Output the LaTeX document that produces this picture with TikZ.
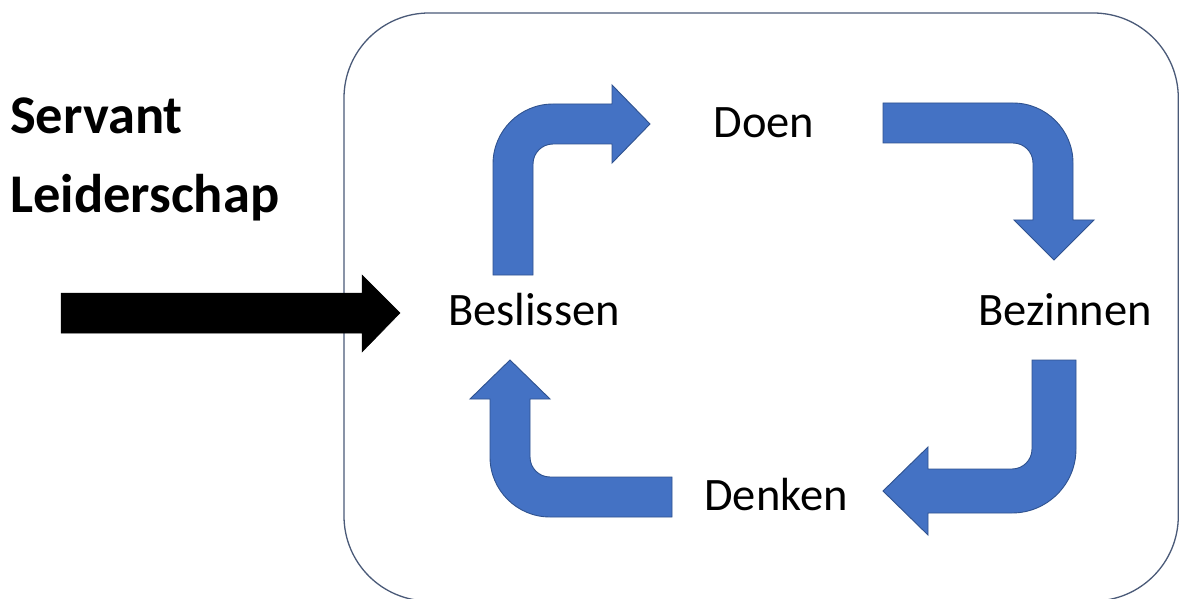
\documentclass[tikz,border=0pt]{standalone}
\usepackage{fontspec}
\setmainfont{Carlito}
\definecolor{officeblue}{HTML}{4472C4}
\definecolor{officeedge}{HTML}{2F528F}
\definecolor{frameedge}{HTML}{4A5A78}
\tikzset{
  bluearrow/.style={fill=officeblue, draw=officeedge, line width=0.9pt, line join=miter},
  blackarrow/.style={fill=black, draw=black, line width=0.5pt},
  frame/.style={draw=frameedge, line width=1.3pt, rounded corners=85pt},
  steplabel/.style={font=\fontsize{46.5}{56}\selectfont, anchor=base, inner sep=0pt},
  titlelabel/.style={font=\fontsize{54.5}{64}\selectfont\bfseries, anchor=base west, inner sep=0pt}
}
\begin{document}
\begin{tikzpicture}[x=1pt,y=-1pt]
\useasboundingbox (0,0) rectangle (1179,599);
\clip (0,0) rectangle (1179,599);
\fill[white] (0,0) rectangle (1179,599);
% frame
\draw[frame] (344,13) rectangle (1178.3,601);
% labels
\node[titlelabel] (servant) at (10,134) {Servant};
\node[titlelabel] (leider) at (10,212) {Leiderschap};
\node[steplabel] (doen) at (764,138) {Doen};
\node[steplabel] (beslissen) at (534,325) {Beslissen};
\node[steplabel] (bezinnen) at (1065,325) {Bezinnen};
\node[steplabel] (denken) at (776,510) {Denken};
% black input arrow
\draw[blackarrow] (61,293) -- (362,293) -- (362,275) -- (400,313) -- (362,352) -- (362,333) -- (61,333) -- cycle;
% Beslissen -> Doen
\draw[bluearrow] (493,275) -- (493,164) .. controls (493,130.9) and (519.9,104) .. (553,104)
  -- (612,104) -- (612,85) -- (650,124) -- (612,163) -- (612,144) -- (553,144)
  .. controls (541.95,144) and (533,152.95) .. (533,164) -- (533,275) -- cycle;
% Doen -> Bezinnen
\draw[bluearrow] (883,103) -- (1013,103) .. controls (1046.1,103) and (1073,129.9) .. (1073,163)
  -- (1073,220) -- (1094,220) -- (1054,260) -- (1014,220) -- (1033,220) -- (1033,163)
  .. controls (1033,151.95) and (1024.05,143) .. (1013,143) -- (883,143) -- cycle;
% Bezinnen -> Denken
\draw[bluearrow] (1032,360) -- (1076,360) -- (1076,449) .. controls (1076,484.3) and (1047.3,513) .. (1012,513)
  -- (928,513) -- (928,535) -- (883,491) -- (928,447) -- (928,469) -- (1012,469)
  .. controls (1023.05,469) and (1032,460.05) .. (1032,449) -- cycle;
% Denken -> Beslissen
\draw[bluearrow] (672,477) -- (672,517) -- (550,517) .. controls (516.9,517) and (490,490.1) .. (490,457)
  -- (490,399) -- (470,399) -- (510,360) -- (550,399) -- (530,399) -- (530,457)
  .. controls (530,468.05) and (538.95,477) .. (550,477) -- cycle;
\end{tikzpicture}
\end{document}
